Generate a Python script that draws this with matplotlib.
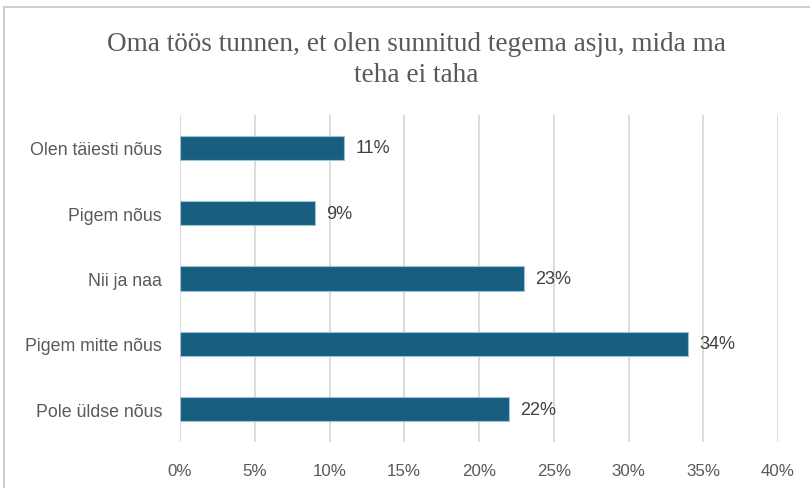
import matplotlib
matplotlib.use('Agg')
import matplotlib.pyplot as plt
from matplotlib.lines import Line2D

categories = ['Olen täiesti nõus', 'Pigem nõus', 'Nii ja naa', 'Pigem mitte nõus', 'Pole üldse nõus']
values = [11, 9, 23, 34, 22]
xticks = [0, 5, 10, 15, 20, 25, 30, 35, 40]
title = 'Oma töös tunnen, et olen sunnitud tegema asju, mida ma\nteha ei taha'

W, H = 810, 489
fig = plt.figure(figsize=(W / 100, H / 100), dpi=100)

# axes placed in pixel terms: x 180..778, y 116..443
ax = fig.add_axes([180 / W, 1 - 443 / H, (778 - 180) / W, (443 - 116) / H])

y = list(range(len(categories)))
ax.barh(y, values, height=0.37, color='#175e80', edgecolor='#9cc3d6', linewidth=0.8, zorder=3)
ax.set_ylim(len(categories) - 0.5, -0.5)
ax.set_xlim(0, 40)

ax.set_yticks(y)
ax.set_yticklabels(categories, family='Liberation Sans', fontsize=12.8, color='#595959')
ax.set_xticks(xticks)
ax.set_xticklabels([f'{t}%' for t in xticks], family='Liberation Sans', fontsize=12.2, color='#595959')
ax.tick_params(axis='both', length=0)
ax.tick_params(axis='y', pad=13)
ax.tick_params(axis='x', pad=15)
ax.grid(axis='x', color='#d9d9d9', linewidth=1.3, zorder=0)
for s in ax.spines.values():
    s.set_visible(False)

for yi, v in zip(y, values):
    ax.text(v + 0.75, yi, f'{v}%', va='center', ha='left', family='Liberation Sans',
            fontsize=13, color='#404040')

fig.text(416 / W, 1 - 60 / H, title, ha='center', va='center', family='Liberation Serif',
         fontsize=19.6, color='#595959', linespacing=1.3)

# chart frame (top and left edges visible)
fig.add_artist(Line2D([4 / W, 1], [1 - 8 / H, 1 - 8 / H], transform=fig.transFigure, color='#d0d0d0', lw=1.5))
fig.add_artist(Line2D([4 / W, 4 / W], [0, 1 - 8 / H], transform=fig.transFigure, color='#d0d0d0', lw=1.5))

fig.savefig('out.png', dpi=100)
